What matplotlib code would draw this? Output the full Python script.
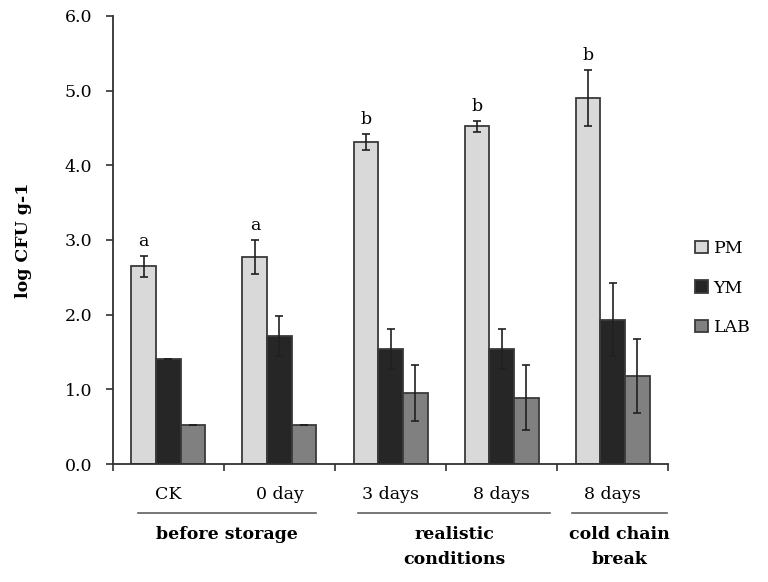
import numpy as np
import matplotlib
matplotlib.use("Agg")
import matplotlib.pyplot as plt
from matplotlib.lines import Line2D
from matplotlib.patches import Patch

plt.rcParams['font.family'] = ['DejaVu Serif', 'Liberation Serif']

# data
categories = ['CK', '0 day', '3 days', '8 days', '8 days']
pm = [2.65, 2.77, 4.31, 4.52, 4.90]
pm_err = [0.14, 0.23, 0.11, 0.07, 0.38]
ym = [1.41, 1.71, 1.54, 1.54, 1.93]
ym_err = [0.0, 0.27, 0.27, 0.27, 0.49]
lab = [0.52, 0.52, 0.95, 0.89, 1.18]
lab_err = [0.0, 0.0, 0.38, 0.44, 0.50]
letters = ['a', 'a', 'b', 'b', 'b']
groups = ['before storage', 'realistic\nconditions', 'cold chain\nbreak']
series = ['PM', 'YM', 'LAB']
colors = ['#d9d9d9', '#262626', '#808080']

fs = 12.5

fig = plt.figure(figsize=(7.68, 5.82), dpi=100)
ax = fig.add_axes([0.147, 0.2027, 0.723, 0.770])

x = np.arange(len(categories))
w = 0.222
err_kw = dict(ecolor='#202020', elinewidth=1.2, capsize=3, capthick=1.2)
for i, (vals, errs) in enumerate([(pm, pm_err), (ym, ym_err), (lab, lab_err)]):
    ax.bar(x + (i - 1) * w, vals, w, yerr=errs, color=colors[i],
           edgecolor='#3a3a3a', linewidth=1.3, error_kw=err_kw, zorder=2)

for xi, v, e, t in zip(x, pm, pm_err, letters):
    ax.text(xi - w, v + e + 0.08, t, ha='center', va='bottom', fontsize=fs)

ax.set_xlim(-0.5, 4.5)
ax.set_ylim(0, 6)
ax.set_yticks(np.arange(0, 6.1, 1.0))
ax.set_yticklabels([f'{v:.1f}' for v in np.arange(0, 6.1, 1.0)], fontsize=fs)
ax.set_xticks(np.arange(-0.5, 4.6, 1.0))
ax.set_xticklabels([])
ax.tick_params(axis='both', direction='out', length=5, width=1.2, color='#303030')
ax.tick_params(axis='y', pad=10)
for s in ['top', 'right']:
    ax.spines[s].set_visible(False)
for s in ['left', 'bottom']:
    ax.spines[s].set_linewidth(1.3)
    ax.spines[s].set_color('#303030')

ax.set_ylabel('log CFU g-1', fontsize=fs, fontweight='bold', labelpad=23)

trans = ax.get_xaxis_transform()
for xi, c in zip(x, categories):
    ax.text(xi, -0.068, c, ha='center', va='center', fontsize=fs, transform=trans)

# group brackets under the category labels
spans = [(-0.275, 1.33), (1.71, 3.44), (3.63, 4.49)]
for (a, b), g in zip(spans, groups):
    ax.add_line(Line2D([a, b], [-0.109, -0.109], transform=trans, color='#606060',
                       linewidth=1.2, clip_on=False))
    ax.text((a + b) / 2, -0.139, g, ha='center', va='top', fontsize=fs,
            fontweight='bold', transform=trans, linespacing=1.6)

handles = [Patch(facecolor=c, edgecolor='#3a3a3a', linewidth=1.3) for c in colors]
fig.legend(handles, series, loc='center left', bbox_to_anchor=(0.885, 0.505),
           frameon=False, fontsize=fs, handlelength=0.75, handleheight=0.75,
           handletextpad=0.3, labelspacing=1.3)

fig.savefig('out.png', dpi=100)
